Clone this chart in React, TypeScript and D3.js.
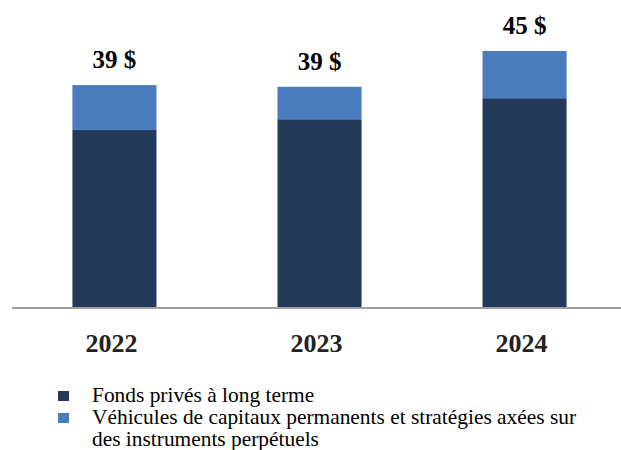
import { useEffect, useRef } from 'react'
import * as d3 from 'd3'

const years = ['2022', '2023', '2024']
const longTermFunds = [31.1, 33.0, 36.7]
const permanentCapital = [7.9, 5.7, 8.3]
const totalLabels = ['39 $', '39 $', '45 $']
const legendItems = ['Fonds privés à long terme', 'Véhicules de capitaux permanents et stratégies axées sur', 'des instruments perpétuels']

const colors = { dark: '#243a5a', light: '#4a7dbe' }

export default function App() {
  const svgRef = useRef<SVGSVGElement>(null)
  const width = 621
  const height = 450

  useEffect(() => {
    if (!svgRef.current) return
    const svg = d3.select(svgRef.current)
    svg.selectAll('*').remove()

    const baseline = 307
    const fontFamily = "'Liberation Serif', 'Times New Roman', serif"

    const rows = years.map((year, i) => ({
      year,
      dark: longTermFunds[i],
      light: permanentCapital[i],
      label: totalLabels[i],
    }))

    const xScale = d3
      .scaleBand()
      .domain(years)
      .range([15, 624])
      .paddingInner(0.59)
      .paddingOuter(0.28)

    const yScale = d3
      .scaleLinear()
      .domain([0, 45])
      .range([baseline, baseline - 45 * 5.69])

    svg.append('rect').attr('width', width).attr('height', height).attr('fill', '#ffffff')

    // dark segment
    svg
      .selectAll('.bar-dark')
      .data(rows)
      .enter()
      .append('rect')
      .attr('x', (d) => xScale(d.year) || 0)
      .attr('y', (d) => yScale(d.dark))
      .attr('width', xScale.bandwidth())
      .attr('height', (d) => yScale(0) - yScale(d.dark))
      .attr('fill', colors.dark)

    // light segment stacked on top
    svg
      .selectAll('.bar-light')
      .data(rows)
      .enter()
      .append('rect')
      .attr('x', (d) => xScale(d.year) || 0)
      .attr('y', (d) => yScale(d.dark + d.light))
      .attr('width', xScale.bandwidth())
      .attr('height', (d) => yScale(d.dark) - yScale(d.dark + d.light))
      .attr('fill', colors.light)

    // baseline
    svg
      .append('line')
      .attr('x1', 12)
      .attr('x2', width)
      .attr('y1', baseline + 1)
      .attr('y2', baseline + 1)
      .attr('stroke', '#a0a0a0')
      .attr('stroke-width', 2)

    // totals
    svg
      .selectAll('.total')
      .data(rows)
      .enter()
      .append('text')
      .attr('x', (d) => (xScale(d.year) || 0) + xScale.bandwidth() / 2)
      .attr('y', (d) => yScale(d.dark + d.light) - 17)
      .attr('text-anchor', 'middle')
      .style('font-family', fontFamily)
      .style('font-weight', 'bold')
      .style('font-size', '25px')
      .attr('fill', '#000')
      .text((d) => d.label)

    // year labels
    svg
      .selectAll('.year')
      .data(rows)
      .enter()
      .append('text')
      .attr('x', (d) => (xScale(d.year) || 0) + xScale.bandwidth() / 2 - 3)
      .attr('y', 352)
      .attr('text-anchor', 'middle')
      .style('font-family', fontFamily)
      .style('font-weight', 'bold')
      .style('font-size', '26px')
      .attr('fill', '#222')
      .text((d) => d.year)

    // legend
    const legend = svg.append('g').attr('transform', 'translate(58, 0)')
    const swatches = [colors.dark, colors.light]
    swatches.forEach((c, i) => {
      legend
        .append('rect')
        .attr('x', 0)
        .attr('y', 391 + i * 22)
        .attr('width', 11)
        .attr('height', 10)
        .attr('fill', c)
    })
    legendItems.forEach((t, i) => {
      legend
        .append('text')
        .attr('x', 34)
        .attr('y', 402 + i * 22)
        .style('font-family', fontFamily)
        .style('font-size', '21.4px')
        .attr('fill', '#000')
        .text(t)
    })
  }, [])

  return (
    <svg
      ref={svgRef}
      width={width}
      height={height}
      style={{ position: 'absolute', left: 0, top: 0, display: 'block' }}
    />
  )
}
